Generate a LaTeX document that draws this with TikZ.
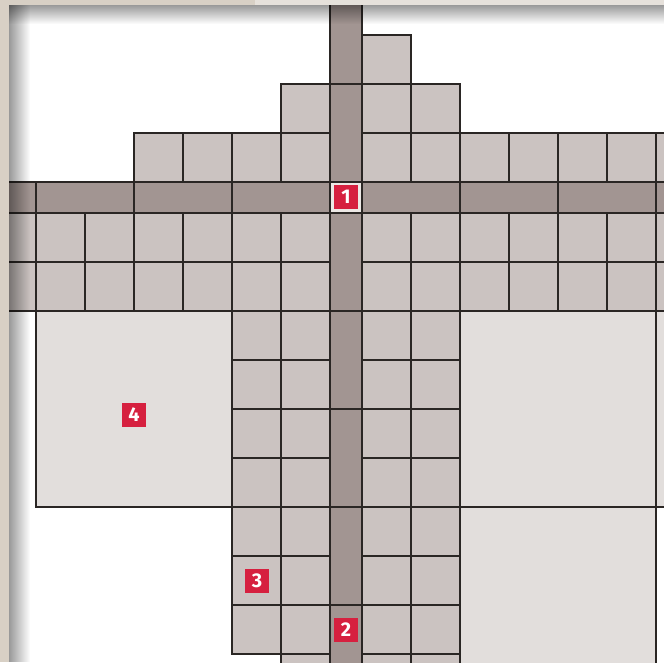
\documentclass[tikz,border=0pt]{standalone}
\usepackage{fontspec}
\setsansfont{Fira Sans}
\definecolor{tilegray}{RGB}{203,195,193}
\definecolor{stripgray}{RGB}{162,149,146}
\definecolor{slabgray}{RGB}{226,222,220}
\definecolor{joint}{RGB}{42,38,36}
\definecolor{markred}{RGB}{214,32,63}
\definecolor{framebeige}{RGB}{216,208,197}
\definecolor{framelight}{RGB}{230,225,219}
\definecolor{crosslight}{RGB}{236,232,229}
\usepackage{tikz}
\usetikzlibrary{fadings}
\tikzfading[name=shadeeast, left color=transparent!60, right color=transparent!100]
\tikzfading[name=shadesouth, top color=transparent!60, bottom color=transparent!100]
\tikzset{
  tile/.style={fill=tilegray,draw=joint,line width=0.9pt},
  band/.style={fill=stripgray,draw=joint,line width=0.9pt},
  slab/.style={fill=slabgray,draw=joint,line width=1.1pt},
  marker/.style={fill=markred,text=white,font=\sffamily\bfseries\fontsize{17}{17}\selectfont,
                 minimum size=0.72cm,inner sep=0pt},
}

\begin{document}
\begin{tikzpicture}[x=0.03cm,y=-0.03cm]
        \def\t{49}\def\b{98}
        \useasboundingbox (0,0) rectangle (664,662);
        % frame and sheet
        \fill[framebeige] (0,0) rectangle (664,662);
        \fill[framelight] (255,0) rectangle (664,5);
        \fill[white] (9,5) rectangle (664,662);
        \begin{scope}
          \clip (9,5) rectangle (664,662);
          % stepped tiles above the band
          \foreach \x in {134,183,232,281,362,411,460,509,558,607,656}
            \draw[tile] (\x,133) rectangle ++(\t,\t);
          \foreach \x in {281,362,411}
            \draw[tile] (\x,84) rectangle ++(\t,\t);
          \draw[tile] (362,35) rectangle ++(\t,\t);
          % two full rows under the band
          \foreach \y in {213,262}
            \foreach \x in {-13,36,85,134,183,232,281,362,411,460,509,558,607,656}
              \draw[tile] (\x,\y) rectangle ++(\t,\t);
          % columns next to the vertical band
          \foreach \y in {311,360,...,605}
            \draw[tile] (232,\y) rectangle ++(\t,\t);
          \foreach \y in {311,360,...,654}
            \foreach \x in {281,362,411}
              \draw[tile] (\x,\y) rectangle ++(\t,\t);
          % large slabs
          \foreach \x/\y in {36/311,460/311,460/507,656/311}
            \draw[slab] (\x,\y) rectangle ++(196,196);
          % bands
          \foreach \x in {-62,36,134,232,362,460,558,656}
            \draw[band] (\x,182) rectangle ++(\b,31);
          \foreach \y in {-14,84,213,311,409,507,605}
            \draw[band] (330,\y) rectangle ++(32,\b);
          \draw[band,fill=crosslight] (330,182) rectangle ++(32,31);
          % sheet shadow
          \fill[black,path fading=shadeeast] (9,5) rectangle (30,662);
          \fill[black,path fading=shadesouth] (9,5) rectangle (664,24);
        \end{scope}
        \node[marker] (m1) at (346,197) {1};
        \node[marker] (m2) at (346,630) {2};
        \node[marker] (m3) at (257,581) {3};
        \node[marker] (m4) at (134,415) {4};
      \end{tikzpicture}
\end{document}
